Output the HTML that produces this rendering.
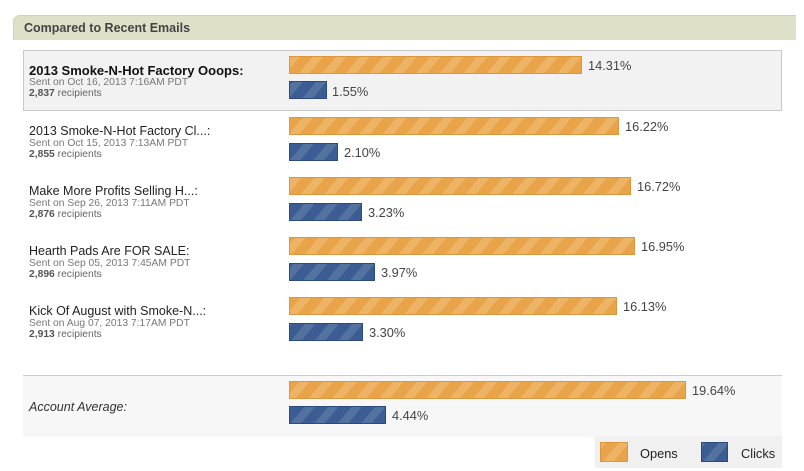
<!DOCTYPE html>
<html><head><style>
body{margin:0;width:804px;height:471px;background:#fff;font-family:"Liberation Sans","DejaVu Sans",sans-serif;position:relative;overflow:hidden}
.a{position:absolute}
.hdr{left:13px;top:15px;width:782px;height:24px;background:#dee1c8;border-radius:7px 0 0 0;border-top:1px solid #cfd3b4;border-left:1px solid #cfd3b4}
.hdr span{position:absolute;left:10px;top:5px;font-size:12.5px;font-weight:bold;color:#444}
.o,.c{position:absolute;left:289px;height:18px;box-sizing:border-box}
.o{background:repeating-linear-gradient(-50deg,#e9a449 0 10px,#eeb466 10px 18px);border:1px solid #dc963e}
.c{background:repeating-linear-gradient(-50deg,#3b5d93 0 10px,#53729f 10px 18px);border:1px solid #2c4a7a}
.v{position:absolute;font-size:12.8px;color:#444}
.t{position:absolute;left:29px;font-size:12.5px;color:#222}
.s{position:absolute;left:29px;font-size:10.3px;color:#777}
.r{position:absolute;left:29px;font-size:10.3px;color:#666}
.r b{color:#555}
</style></head><body>
<div class="a hdr"><span>Compared to Recent Emails</span></div>
<div class="a" style="left:23px;top:50px;width:759px;height:61px;background:#f2f2f2;border:1px solid #c8c8c8;box-sizing:border-box"></div>
<div class="a" style="left:23px;top:375px;width:759px;height:61px;background:#f7f7f7;border-top:1px solid #ccc"></div>
<div class="a" style="left:595px;top:436px;width:187px;height:32px;background:#f0f0f0"></div>

<div class="t" style="top:63px;font-weight:bold;font-size:13px;color:#111">2013 Smoke-N-Hot Factory Ooops:</div>
<div class="s" style="top:77px">Sent on Oct 16, 2013 7:16AM PDT</div>
<div class="r" style="top:88px"><b>2,837</b> recipients</div>
<div class="o" style="top:56px;width:293px"></div><div class="v" style="left:588px;top:58px">14.31%</div>
<div class="c" style="top:81px;width:38px"></div><div class="v" style="left:332px;top:84px">1.55%</div>

<div class="t" style="top:124px">2013 Smoke-N-Hot Factory Cl...:</div>
<div class="s" style="top:138px">Sent on Oct 15, 2013 7:13AM PDT</div>
<div class="r" style="top:149px"><b>2,855</b> recipients</div>
<div class="o" style="top:117px;width:330px"></div><div class="v" style="left:625px;top:119px">16.22%</div>
<div class="c" style="top:143px;width:49px"></div><div class="v" style="left:344px;top:145px">2.10%</div>

<div class="t" style="top:184px">Make More Profits Selling H...:</div>
<div class="s" style="top:198px">Sent on Sep 26, 2013 7:11AM PDT</div>
<div class="r" style="top:209px"><b>2,876</b> recipients</div>
<div class="o" style="top:177px;width:342px"></div><div class="v" style="left:637px;top:179px">16.72%</div>
<div class="c" style="top:203px;width:73px"></div><div class="v" style="left:368px;top:205px">3.23%</div>

<div class="t" style="top:244px">Hearth Pads Are FOR SALE:</div>
<div class="s" style="top:258px">Sent on Sep 05, 2013 7:45AM PDT</div>
<div class="r" style="top:269px"><b>2,896</b> recipients</div>
<div class="o" style="top:237px;width:346px"></div><div class="v" style="left:641px;top:239px">16.95%</div>
<div class="c" style="top:263px;width:86px"></div><div class="v" style="left:381px;top:265px">3.97%</div>

<div class="t" style="top:304px">Kick Of August with Smoke-N...:</div>
<div class="s" style="top:318px">Sent on Aug 07, 2013 7:17AM PDT</div>
<div class="r" style="top:329px"><b>2,913</b> recipients</div>
<div class="o" style="top:297px;width:328px"></div><div class="v" style="left:623px;top:299px">16.13%</div>
<div class="c" style="top:323px;width:74px"></div><div class="v" style="left:369px;top:325px">3.30%</div>

<div class="t" style="top:400px;font-style:italic;color:#333">Account Average:</div>
<div class="o" style="top:381px;width:397px"></div><div class="v" style="left:692px;top:383px">19.64%</div>
<div class="c" style="top:406px;width:97px"></div><div class="v" style="left:392px;top:408px">4.44%</div>

<div class="o" style="left:600px;top:442px;width:28px;height:20px"></div>
<div class="v" style="left:640px;top:446px;color:#222">Opens</div>
<div class="c" style="left:701px;top:442px;width:27px;height:20px"></div>
<div class="v" style="left:741px;top:446px;color:#222">Clicks</div>
</body></html>
